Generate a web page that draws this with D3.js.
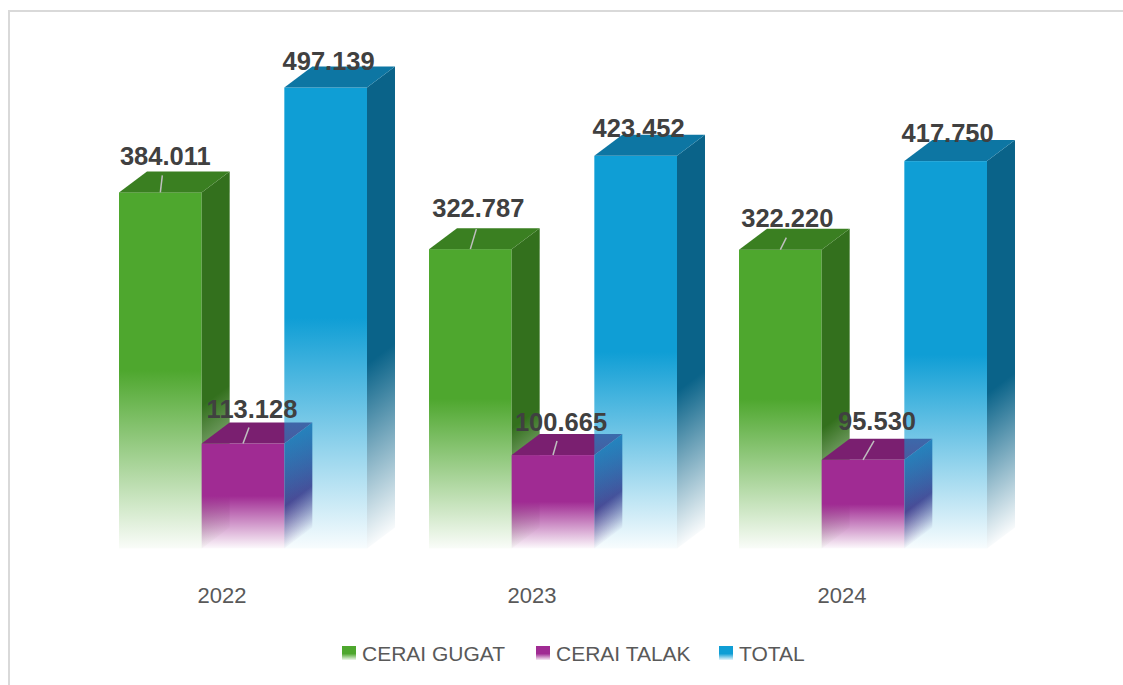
<!DOCTYPE html>
<html>
<head>
<meta charset="utf-8">
<title>cerai</title>
<style>
html, body { margin: 0; padding: 0; background: #fff; }
svg { display: block; }
text { font-family: "Liberation Sans", Arial, sans-serif; }
</style>
<script src="https://cdn.jsdelivr.net/npm/d3@7"></script>
</head>
<body>
<script>
// data
var years = ["2022", "2023", "2024"];
var seriesNames = ["CERAI GUGAT", "CERAI TALAK", "TOTAL"];
var ceraiGugat = [384011, 322787, 322220];
var ceraiTalak = [113128, 100665, 95530];
var total = [497139, 423452, 417750];
var seriesValues = [ceraiGugat, ceraiTalak, total];
var labelText = [
    ["384.011", "322.787", "322.220"],
    ["113.128", "100.665", "95.530"],
    ["497.139", "423.452", "417.750"]
];

// colours per series: front, top, side
var colors = [
    { front: "#4ea72e", top: "#3a7f21", side: "#33701d" },
    { front: "#a02b93", top: "#7a1f70", side: "#5a3384" },
    { front: "#0f9ed5", top: "#0d76a3", side: "#0a6389" }
];

// label offsets from bar centre / bar top, and leader line tails
var labelDx = [[5, 8, 7], [9, 8, 14], [3, 3, 2]];
var labelDy = [[27, 32, 23], [26, 24, 30], [18, 19, 19]];
var leaderDx = [[2, 6, 6], [6, 4, 11]];
var leaderDy = [[17, 20, 12], [16, 14, 19]];

var width = 1123, height = 685;
var depthX = 28, depthY = 21;

var svg = d3.select("body").append("svg")
    .attr("width", width)
    .attr("height", height);

// frame of the pasted chart
svg.append("path")
    .attr("d", "M9,685V11H1123")
    .attr("fill", "none")
    .attr("stroke", "#d9d9d9")
    .attr("stroke-width", 2);

var x0 = d3.scaleBand().domain(years).range([67, 997]);
var x1 = d3.scaleBand().domain(seriesNames).range([52, 300]);
var y = d3.scaleLinear().domain([0, d3.max(total)]).range([548.4, 87.5]);

var defs = svg.append("defs");

seriesNames.forEach(function (s, i) {
    var g = defs.append("linearGradient").attr("id", "front" + i)
        .attr("x1", 0).attr("y1", 0).attr("x2", 0).attr("y2", 1);
    g.append("stop").attr("offset", "50%").attr("stop-color", colors[i].front);
    g.append("stop").attr("offset", "100%").attr("stop-color", colors[i].front).attr("stop-opacity", 0.03);

    var lg = defs.append("linearGradient").attr("id", "legend" + i)
        .attr("x1", 0).attr("y1", 0).attr("x2", 0).attr("y2", 1);
    lg.append("stop").attr("offset", "55%").attr("stop-color", colors[i].front);
    lg.append("stop").attr("offset", "100%").attr("stop-color", colors[i].front).attr("stop-opacity", 0.1);
});

// flat list of bars, left to right so later ones sit over earlier ones
var bars = [];
years.forEach(function (yr, yi) {
    seriesNames.forEach(function (s, si) {
        bars.push({ year: yr, yi: yi, series: s, si: si, value: seriesValues[si][yi], label: labelText[si][yi] });
    });
});

function left(d) { return x0(d.year) + x1(d.series); }
var bw = x1.bandwidth();

// side faces fade along the slant, so each bar gets its own gradient
bars.forEach(function (d, i) {
    var l = left(d) + bw, t = y(d.value), h = y(0) - t;
    var g = defs.append("linearGradient").attr("id", "side" + i)
        .attr("gradientUnits", "userSpaceOnUse")
        .attr("x1", l).attr("y1", t)
        .attr("x2", l + 0.48 * h).attr("y2", t + 0.64 * h);
    // the purple side picks up the blue bar behind it near the top
    if (d.si == 1) g.append("stop").attr("offset", "0%").attr("stop-color", "#40619f");
    g.append("stop").attr("offset", "60%").attr("stop-color", colors[d.si].side);
    g.append("stop").attr("offset", "100%").attr("stop-color", colors[d.si].side).attr("stop-opacity", 0.03);
});

var barG = svg.selectAll(".bar")
    .data(bars)
    .enter()
    .append("g")
    .attr("class", "bar");

barG.append("rect")
    .attr("x", left)
    .attr("y", function (d) { return y(d.value); })
    .attr("width", bw)
    .attr("height", function (d) { return y(0) - y(d.value); })
    .attr("fill", function (d) { return "url(#front" + d.si + ")"; });

barG.append("path")
    .attr("d", function (d) {
        var l = left(d) + bw, t = y(d.value), b = y(0);
        return "M" + l + "," + t + "L" + (l + depthX) + "," + (t - depthY) + "L" + (l + depthX) + "," + (b - depthY) + "L" + l + "," + b + "Z";
    })
    .attr("fill", function (d, i) { return "url(#side" + i + ")"; });

barG.append("path")
    .attr("d", function (d) {
        var l = left(d), t = y(d.value);
        return "M" + l + "," + t + "L" + (l + depthX) + "," + (t - depthY) + "L" + (l + bw + depthX) + "," + (t - depthY) + "L" + (l + bw) + "," + t + "Z";
    })
    .attr("fill", function (d) { return colors[d.si].top; });

// leader lines, only the two short series have them
svg.selectAll(".leader")
    .data(bars.filter(function (d) { return d.si < 2; }))
    .enter()
    .append("line")
    .attr("class", "leader")
    .attr("x1", function (d) { return left(d) + bw / 2; })
    .attr("y1", function (d) { return y(d.value); })
    .attr("x2", function (d) { return left(d) + bw / 2 + leaderDx[d.si][d.yi]; })
    .attr("y2", function (d) { return y(d.value) - leaderDy[d.si][d.yi]; })
    .attr("stroke", "#bfbfbf")
    .attr("stroke-width", 1.5);

svg.selectAll(".value")
    .data(bars)
    .enter()
    .append("text")
    .attr("class", "value")
    .attr("x", function (d) { return left(d) + bw / 2 + labelDx[d.si][d.yi]; })
    .attr("y", function (d) { return y(d.value) - labelDy[d.si][d.yi]; })
    .attr("text-anchor", "middle")
    .attr("font-size", 25.5)
    .attr("font-weight", "bold")
    .attr("fill", "#404040")
    .text(function (d) { return d.label; });

// category axis
var axis = svg.append("g")
    .attr("transform", "translate(0,587)")
    .call(d3.axisBottom(x0).tickSize(0).tickPadding(0));
axis.select(".domain").remove();
axis.selectAll("text")
    .attr("dy", "0.71em")
    .attr("font-size", 22)
    .attr("font-family", "Liberation Sans")
    .attr("fill", "#595959");

// legend
var legendX = [342, 536, 719];
var legend = svg.selectAll(".legend")
    .data(seriesNames)
    .enter()
    .append("g")
    .attr("class", "legend")
    .attr("transform", function (d, i) { return "translate(" + legendX[i] + ",646)"; });
legend.append("rect")
    .attr("width", 14)
    .attr("height", 14)
    .attr("fill", function (d, i) { return "url(#legend" + i + ")"; });
legend.append("text")
    .attr("x", 20)
    .attr("y", 14.5)
    .attr("font-size", 21)
    .attr("fill", "#595959")
    .text(function (d) { return d; });
</script>
</body>
</html>
